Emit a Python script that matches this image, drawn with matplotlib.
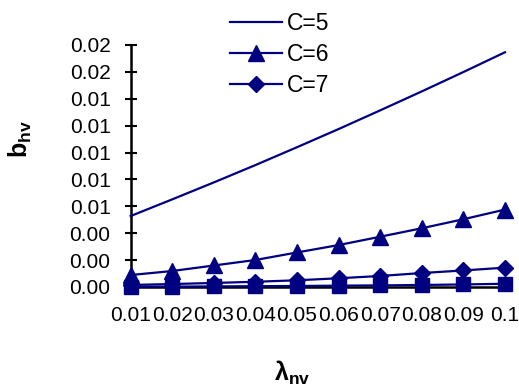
import matplotlib
matplotlib.use("Agg")
import matplotlib.pyplot as plt

plt.rcParams['font.family'] = ['Liberation Sans', 'DejaVu Sans']
plt.rcParams['mathtext.fontset'] = 'custom'
plt.rcParams['mathtext.rm'] = 'Liberation Sans'
plt.rcParams['mathtext.bf'] = 'Liberation Sans:bold'

lam = [0.01, 0.02, 0.03, 0.04, 0.05, 0.06, 0.07, 0.08, 0.09, 0.1]
x_labels = ["0.01", "0.02", "0.03", "0.04", "0.05", "0.06", "0.07", "0.08", "0.09", "0.1"]
c5 = [0.00528, 0.00652, 0.00778, 0.00907, 0.0104, 0.01175, 0.01314, 0.01455, 0.01599, 0.01746]
c6 = [0.00089, 0.00119, 0.0016, 0.00201, 0.00257, 0.00312, 0.00374, 0.00437, 0.00504, 0.00576]
c7 = [0.00015, 0.00022, 0.0003, 0.00039, 0.0005, 0.00065, 0.00082, 0.00104, 0.00123, 0.00144]
c8 = [0.000015, 0.00003, 0.000045, 0.00006, 0.000074, 0.0001, 0.00012, 0.00015, 0.00019, 0.00024]
y_ticks = [0, 0.002, 0.004, 0.006, 0.008, 0.010, 0.012, 0.014, 0.016, 0.018]

navy = '#000080'
W, H = 519, 390
fig = plt.figure(figsize=(W / 100, H / 100), dpi=100)
ax = fig.add_axes([130.7 / W, 1 - 287 / H, (505 - 130.7) / W, (287 - 45) / H])

l5, = ax.plot(lam, c5, color=navy, lw=1.6, clip_on=False, zorder=3)
l6, = ax.plot(lam, c6, color=navy, lw=1.6, marker='^', ms=11, clip_on=False, zorder=4)
l7, = ax.plot(lam, c7, color=navy, lw=1.6, marker='D', ms=8, clip_on=False, zorder=5)
l8, = ax.plot(lam, c8, color=navy, lw=1.6, marker='s', ms=10, clip_on=False, zorder=6)

ax.set_xlim(0.01, 0.1)
ax.set_ylim(0, 0.018)
ax.set_xticks(lam)
ax.set_xticklabels(x_labels)
ax.set_yticks(y_ticks)
ax.set_yticklabels([f"{v:.2f}" for v in y_ticks])

fs = 15
ax.tick_params(axis='y', direction='inout', length=9, width=1.5, labelsize=fs, pad=10)
ax.tick_params(axis='x', direction='out', length=3, width=1.5, labelsize=fs, pad=11)
for s in ['top', 'right']:
    ax.spines[s].set_visible(False)
for s in ['left', 'bottom']:
    ax.spines[s].set_linewidth(1.8)
    ax.spines[s].set_color('black')
    ax.spines[s].set_zorder(2)

fig.text(20 / W, 1 - 139 / H, r'$\mathbf{b_{hv}}$', rotation=90, ha='center', va='center', fontsize=18)
fig.text(292 / W, 1 - 373 / H, r'$\mathbf{λ_{nv}}$', ha='center', va='center', fontsize=18)

fig.legend([l5, l6, l7], ['C=5', 'C=6', 'C=7'], loc='upper left',
           bbox_to_anchor=(230 / W, 1 - 12 / H), frameon=False, fontsize=16.5,
           handlelength=2.27, handletextpad=0.22, labelspacing=0.34, borderpad=0,
           borderaxespad=0)

fig.savefig('out.png', dpi=100)
